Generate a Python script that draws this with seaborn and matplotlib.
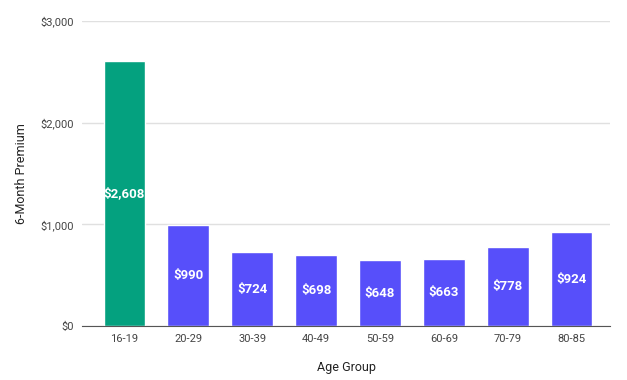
import pandas as pd
import matplotlib.pyplot as plt
import seaborn as sns

age_groups = ["16-19", "20-29", "30-39", "40-49", "50-59", "60-69", "70-79", "80-85"]
premiums = [2608, 990, 724, 698, 648, 663, 778, 924]
bar_colors = ["#04A17F"] + ["#574FFA"] * 7

df = pd.DataFrame({"age": age_groups, "premium": premiums})

sns.set_style("white")
plt.rcParams['font.family'] = ['Roboto', 'DejaVu Sans']

fig = plt.figure(figsize=(6.27, 3.8), dpi=100)
ax = fig.add_axes([0.131, 0.142, 0.842, 0.803])

sns.barplot(data=df, x="age", y="premium", hue="age", palette=bar_colors,
            width=0.65, legend=False, ax=ax, saturation=1)

ax.set_ylim(0, 3000)
ax.set_xlim(-0.66, 7.6)
ax.set_yticks([0, 1000, 2000, 3000])
ax.set_yticklabels(["$0", "$1,000", "$2,000", "$3,000"])
ax.yaxis.grid(True, color="#e0e0e0", linewidth=1)
ax.set_axisbelow(True)
for s in ["top", "right", "left"]:
    ax.spines[s].set_visible(False)
ax.spines["bottom"].set_color("#555555")
ax.tick_params(axis="both", length=0, labelsize=8, colors="#444444", pad=6)

# value labels in the middle of each bar
for i, v in enumerate(premiums):
    ax.text(i, v / 2, f"${v:,}", ha="center", va="center", color="white",
            fontsize=9.5, fontweight="bold")

ax.set_xlabel("Age Group", fontsize=9, color="#222222", labelpad=12)
ax.set_ylabel("6-Month Premium", fontsize=9, color="#222222", labelpad=9)

fig.savefig("out.png", dpi=100)
